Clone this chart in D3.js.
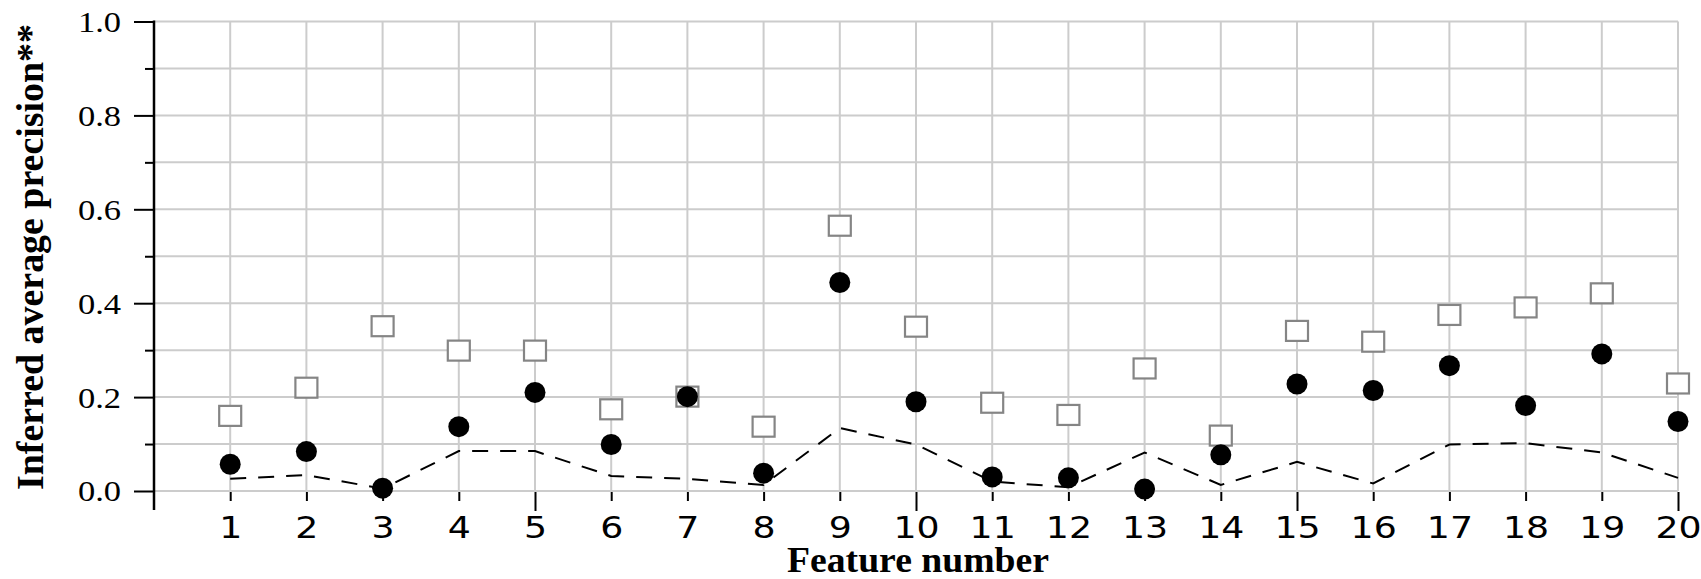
<!DOCTYPE html>
<html>
<head>
<meta charset="utf-8">
<script src="https://cdn.jsdelivr.net/npm/d3@7"></script>
<style>
body { margin: 0; background: #fff; }
</style>
</head>
<body>
<script>
'use strict';
// feature numbers along the x axis
var features = [1, 2, 3, 4, 5, 6, 7, 8, 9, 10, 11, 12, 13, 14, 15, 16, 17, 18, 19, 20];
// open squares
var squareValues = [0.160, 0.220, 0.351, 0.299, 0.299, 0.174, 0.201, 0.137, 0.565, 0.350,
                    0.188, 0.162, 0.261, 0.118, 0.341, 0.318, 0.375, 0.391, 0.421, 0.229];
// filled circles
var circleValues = [0.057, 0.084, 0.006, 0.137, 0.210, 0.099, 0.201, 0.038, 0.444, 0.190,
                    0.030, 0.028, 0.004, 0.077, 0.228, 0.214, 0.267, 0.182, 0.292, 0.148];
// dashed line
var dashedValues = [0.026, 0.034, 0.005, 0.085, 0.085, 0.032, 0.026, 0.013, 0.134, 0.099,
                    0.020, 0.008, 0.082, 0.013, 0.062, 0.016, 0.099, 0.102, 0.082, 0.028];
var yTicks = [0, 0.1, 0.2, 0.3, 0.4, 0.5, 0.6, 0.7, 0.8, 0.9, 1.0];
var yLabelTicks = [0, 0.2, 0.4, 0.6, 0.8, 1.0];

var svg = d3.select("body").append("svg")
    .attr("width", 1701)
    .attr("height", 579);

var xScale = d3.scaleLinear().domain([0, 20]).range([154, 1678]);
var yScale = d3.scaleLinear().domain([0, 1]).range([491, 21.5]);

// grid
var grid = svg.append("g").attr("stroke", "#cccccc").attr("stroke-width", 2);
grid.selectAll("line.h").data(yTicks).enter().append("line")
    .attr("class", "h")
    .attr("x1", xScale(0)).attr("x2", xScale(20))
    .attr("y1", function(d) { return yScale(d); })
    .attr("y2", function(d) { return yScale(d); });
grid.selectAll("line.v").data(features).enter().append("line")
    .attr("class", "v")
    .attr("y1", yScale(0)).attr("y2", yScale(1))
    .attr("x1", function(d) { return xScale(d); })
    .attr("x2", function(d) { return xScale(d); });

// y axis
var yAxis = svg.append("g")
    .attr("transform", "translate(" + xScale(0) + ",0)")
    .call(d3.axisLeft(yScale).tickValues(yTicks).tickSize(20)
        .tickFormat(function(d) { return yLabelTicks.indexOf(d) >= 0 ? d3.format(".1f")(d) : ""; }));
yAxis.select(".domain").remove();
yAxis.selectAll(".tick line")
    .attr("stroke", "#000").attr("stroke-width", 2)
    .attr("x2", function(d) { return yLabelTicks.indexOf(d) >= 0 ? -20 : -9; });
yAxis.selectAll(".tick text")
    .attr("x", 0).attr("dy", "0.33em")
    .attr("transform", "translate(-33,0) scale(1.15,1)")
    .attr("text-anchor", "end")
    .attr("font-family", "'Liberation Serif', 'Times New Roman', serif")
    .attr("font-size", 30)
    .attr("fill", "#000");
svg.append("line")
    .attr("x1", xScale(0)).attr("x2", xScale(0))
    .attr("y1", yScale(1) - 1).attr("y2", 510)
    .attr("stroke", "#000").attr("stroke-width", 2.5);

// x axis (ticks only)
var xAxis = svg.append("g")
    .attr("transform", "translate(0,492)")
    .call(d3.axisBottom(xScale).tickValues(features).tickSize(9).tickFormat(d3.format("d")));
xAxis.select(".domain").remove();
xAxis.selectAll(".tick line")
    .attr("stroke", "#000").attr("stroke-width", 2)
    .attr("y2", function(d) { return d % 5 === 0 ? 19 : 9; });
xAxis.selectAll(".tick text")
    .attr("y", 0).attr("dy", 0)
    .attr("transform", "translate(0,46) scale(1.23,1)")
    .attr("text-anchor", "middle")
    .attr("font-family", "'DejaVu Sans', sans-serif")
    .attr("font-size", 29.5)
    .attr("fill", "#000");

// squares
svg.append("g").selectAll("rect").data(squareValues).enter().append("rect")
    .attr("x", function(d, i) { return xScale(features[i]) - 11; })
    .attr("y", function(d) { return yScale(d) - 10; })
    .attr("width", 22).attr("height", 20)
    .attr("fill", "#fff").attr("stroke", "#858585").attr("stroke-width", 2.2);

// dashed line
var line = d3.line()
    .x(function(d, i) { return xScale(features[i]); })
    .y(function(d) { return yScale(d); });
svg.append("path").datum(dashedValues)
    .attr("d", line)
    .attr("fill", "none").attr("stroke", "#000")
    .attr("stroke-width", 2).attr("stroke-dasharray", "16,12");

// circles
svg.append("g").selectAll("circle").data(circleValues).enter().append("circle")
    .attr("cx", function(d, i) { return xScale(features[i]); })
    .attr("cy", function(d) { return yScale(d); })
    .attr("r", 10.5)
    .attr("fill", "#000");

// axis titles
svg.append("text")
    .attr("x", 918).attr("y", 572)
    .attr("text-anchor", "middle")
    .attr("font-family", "'Liberation Serif', 'Times New Roman', serif")
    .attr("font-weight", "bold").attr("font-size", 35)
    .attr("textLength", 262).attr("lengthAdjust", "spacingAndGlyphs")
    .text("Feature number");
svg.append("text")
    .attr("transform", "translate(43,257) rotate(-90)")
    .attr("text-anchor", "middle")
    .attr("font-family", "'Liberation Serif', 'Times New Roman', serif")
    .attr("font-weight", "bold").attr("font-size", 37)
    .attr("textLength", 466).attr("lengthAdjust", "spacingAndGlyphs")
    .text("Inferred average precision**");
</script>
</body>
</html>
